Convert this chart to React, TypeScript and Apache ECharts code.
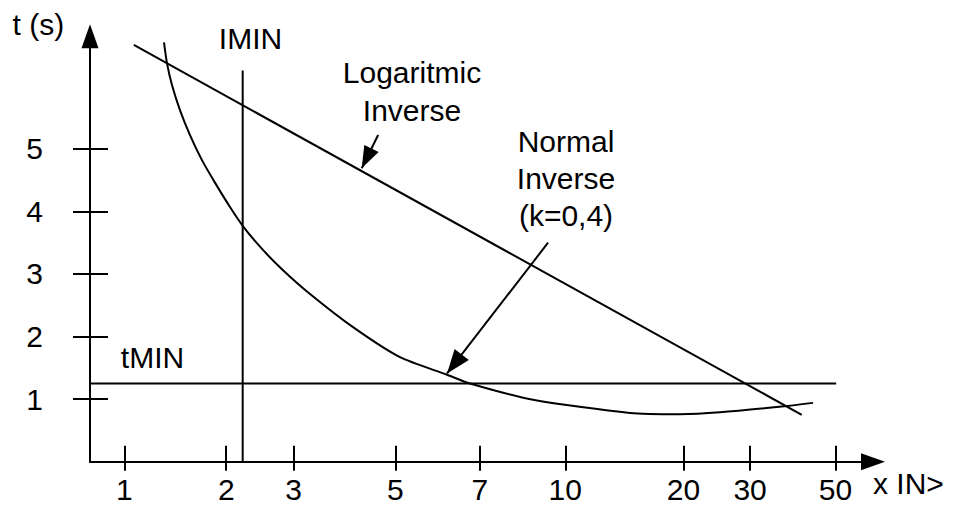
import { useEffect, useRef } from 'react';
import * as echarts from 'echarts';

// x axis: schematic position units (0..100); tick labels show the current multiple
const xTickLabels = ['1', '2', '3', '5', '7', '10', '20', '30', '50'];
const xTickAt = [4.4, 17.4, 26, 39, 49.8, 60.7, 75.8, 84.3, 95.2];
const yTicks = [1, 2, 3, 4, 5];

const logInverse: number[][] = [
  [5.6, 6.66],
  [90.9, 0.75],
];

const normalInverse: number[][] = [
  [9.45, 6.7],
  [9.83, 6.37],
  [10.47, 6.02],
  [11.49, 5.62],
  [12.77, 5.22],
  [14.3, 4.82],
  [15.96, 4.46],
  [17.88, 4.07],
  [19.5, 3.77],
  [21.97, 3.4],
  [24.65, 3.06],
  [28.1, 2.68],
  [33.59, 2.15],
  [39.59, 1.67],
  [45.59, 1.39],
  [48.53, 1.25],
  [56.58, 0.99],
  [68.97, 0.78],
  [75.35, 0.76],
  [80.46, 0.79],
  [89.02, 0.89],
  [92.34, 0.94],
];

const iMinLine: number[][] = [
  [19.5, 0],
  [19.5, 6.25],
];
const tMinLine: number[][] = [
  [0, 1.25],
  [95.3, 1.25],
];

const logArrow: number[][] = [
  [36.8, 5.22],
  [34.7, 4.69],
];
const normalArrow: number[][] = [
  [58.5, 3.5],
  [45.6, 1.41],
];

const FONT = "'Liberation Sans', Arial, Helvetica, sans-serif";
const BLACK = '#000000';

function arrowMarkLine(pts: number[][], size: number[]) {
  return {
    silent: true,
    symbol: ['none', 'triangle'],
    label: { show: false },
    emphasis: { disabled: true },
    lineStyle: { color: BLACK, width: 2, type: 'solid' },
    data: [
      [
        { coord: pts[0], symbol: 'none' },
        { coord: pts[1], symbol: 'triangle', symbolSize: size, symbolOffset: [0, size[1] / 2] },
      ],
    ],
  };
}

export default function App() {
  const ref = useRef<HTMLDivElement>(null);

  useEffect(() => {
    if (!ref.current) return;
    const chart = echarts.init(ref.current, null, { renderer: 'svg' });
    const lineStyle = { color: BLACK, width: 2 };
    const fmt = (v: number) => {
      const i = xTickAt.indexOf(v);
      return i >= 0 ? xTickLabels[i] : '';
    };
    const option: any = {
      animation: false,
      backgroundColor: '#ffffff',
      grid: {
        left: 90,
        right: 90,
        top: 36.2,
        bottom: 44.3,
        containLabel: false,
        outerBoundsMode: 'none',
      },
      xAxis: [
        {
          type: 'value',
          min: 0,
          max: 100,
          position: 'bottom',
          axisLine: {
            show: true,
            onZero: false,
            symbol: ['none', 'triangle'],
            symbolSize: [17, 24],
            lineStyle,
          },
          axisTick: { show: true, inside: false, length: 9, customValues: xTickAt, lineStyle },
          axisLabel: {
            show: true,
            customValues: xTickAt,
            formatter: fmt,
            margin: 13,
            color: BLACK,
            fontSize: 30,
            fontFamily: FONT,
          },
          splitLine: { show: false },
        },
        {
          type: 'value',
          min: 0,
          max: 100,
          position: 'bottom',
          axisLine: { show: false, onZero: false },
          axisTick: { show: true, inside: true, length: 16, customValues: xTickAt, lineStyle },
          axisLabel: { show: false },
          splitLine: { show: false },
        },
      ],
      yAxis: [
        {
          type: 'value',
          min: 0,
          max: 6.8,
          position: 'left',
          axisLine: {
            show: true,
            onZero: false,
            symbol: ['none', 'triangle'],
            symbolSize: [17, 24],
            lineStyle,
          },
          axisTick: { show: true, inside: false, length: 17, customValues: yTicks, lineStyle },
          axisLabel: {
            show: true,
            customValues: yTicks,
            margin: 47,
            color: BLACK,
            fontSize: 30,
            fontFamily: FONT,
          },
          splitLine: { show: false },
        },
        {
          type: 'value',
          min: 0,
          max: 6.8,
          position: 'left',
          axisLine: { show: false, onZero: false },
          axisTick: { show: true, inside: true, length: 18, customValues: yTicks, lineStyle },
          axisLabel: { show: false },
          splitLine: { show: false },
        },
      ],
      series: [
        {
          type: 'line',
          name: 'Logaritmic Inverse',
          data: logInverse,
          symbol: 'none',
          silent: true,
          lineStyle,
          markLine: arrowMarkLine(logArrow, [16, 22]),
        },
        {
          type: 'line',
          name: 'Normal Inverse (k=0,4)',
          data: normalInverse,
          symbol: 'none',
          silent: true,
          smooth: 0.25,
          lineStyle,
          markLine: arrowMarkLine(normalArrow, [18, 24]),
        },
        {
          type: 'line',
          name: 'IMIN',
          data: iMinLine,
          symbol: 'none',
          silent: true,
          lineStyle,
        },
        {
          type: 'line',
          name: 'tMIN',
          data: tMinLine,
          symbol: 'none',
          silent: true,
          lineStyle,
        },
      ],
      graphic: [
        {
          type: 'text',
          x: 12.5,
          y: 24,
          style: { text: 't (s)', fill: BLACK, fontSize: 30, fontFamily: FONT, align: 'left', verticalAlign: 'middle' },
        },
        {
          type: 'text',
          x: 250.5,
          y: 38,
          style: { text: 'IMIN', fill: BLACK, fontSize: 30, fontFamily: FONT, align: 'center', verticalAlign: 'middle' },
        },
        {
          type: 'text',
          x: 412,
          y: 91.3,
          style: {
            text: 'Logaritmic\nInverse',
            fill: BLACK,
            fontSize: 30,
            fontFamily: FONT,
            align: 'center',
            verticalAlign: 'middle',
            lineHeight: 37.5,
          },
        },
        {
          type: 'text',
          x: 566,
          y: 178,
          style: {
            text: 'Normal\nInverse\n(k=0,4)',
            fill: BLACK,
            fontSize: 30,
            fontFamily: FONT,
            align: 'center',
            verticalAlign: 'middle',
            lineHeight: 37,
          },
        },
        {
          type: 'text',
          x: 152.5,
          y: 357.5,
          style: { text: 'tMIN', fill: BLACK, fontSize: 30, fontFamily: FONT, align: 'center', verticalAlign: 'middle' },
        },
        {
          type: 'text',
          x: 873,
          y: 483,
          style: { text: 'x IN>', fill: BLACK, fontSize: 30, fontFamily: FONT, align: 'left', verticalAlign: 'middle' },
        },
      ],
    };
    chart.setOption(option);
    return () => chart.dispose();
  }, []);

  return (
    <div
      ref={ref}
      style={{ position: 'fixed', left: 0, top: 0, width: 963, height: 506, background: '#ffffff' }}
    />
  );
}
